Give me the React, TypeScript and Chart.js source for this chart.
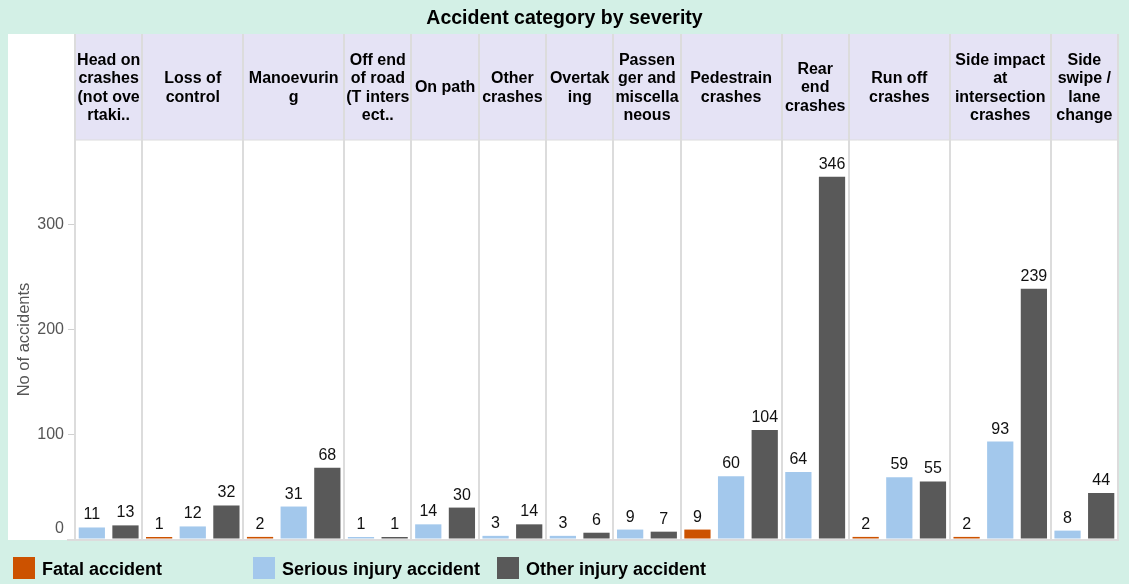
import React, { useEffect, useRef } from 'react';
import { Chart, registerables } from 'chart.js';

Chart.register(...registerables);

const TITLE = 'Accident category by severity';
const Y_TITLE = 'No of accidents';

const CATEGORIES = [
  'Head on crashes (not overtaking)',
  'Loss of control',
  'Manoevuring',
  'Off end of road (T intersection)',
  'On path',
  'Other crashes',
  'Overtaking',
  'Passenger and miscellaneous',
  'Pedestrain crashes',
  'Rear end crashes',
  'Run off crashes',
  'Side impact at intersection crashes',
  'Side swipe / lane change',
];

const HEADER_LINES: string[][] = [
  ['Head on', 'crashes', '(not ove', 'rtaki..'],
  ['Loss of', 'control'],
  ['Manoevurin', 'g'],
  ['Off end', 'of road', '(T inters', 'ect..'],
  ['On path'],
  ['Other', 'crashes'],
  ['Overtak', 'ing'],
  ['Passen', 'ger and', 'miscella', 'neous'],
  ['Pedestrain', 'crashes'],
  ['Rear', 'end', 'crashes'],
  ['Run off', 'crashes'],
  ['Side impact', 'at', 'intersection', 'crashes'],
  ['Side', 'swipe /', 'lane', 'change'],
];

const FATAL: (number | null)[] = [null, 1, 2, null, null, null, null, null, 9, null, 2, 2, null];
const SERIOUS: (number | null)[] = [11, 12, 31, 1, 14, 3, 3, 9, 60, 64, 59, 93, 8];
const OTHER: (number | null)[] = [13, 32, 68, 1, 30, 14, 6, 7, 104, 346, 55, 239, 44];

const SERIES_NAMES = ['Fatal accident', 'Serious injury accident', 'Other injury accident'];
const SERIES_COLORS = ['#cc5200', '#a3c8ec', '#595959'];

const Y_TICKS = [0, 100, 200, 300];
const Y_MAX = 381;

const MINT = '#d3f0e6';
const LAVENDER = '#e5e3f5';
const SEP = '#dcdcdc';
const FONT = '"Liberation Sans", Arial, Helvetica, sans-serif';
const TICK_FONT_SIZE = 16;

export default function App() {
  const ref = useRef<HTMLCanvasElement | null>(null);

  useEffect(() => {
    const canvas = ref.current;
    if (!canvas) return;

    const series = [FATAL, SERIOUS, OTHER];
    // one slot per (category, series present)
    const slots: { cat: number; s: number }[] = [];
    const panelStart: number[] = [];
    CATEGORIES.forEach((_, c) => {
      panelStart.push(slots.length);
      series.forEach((arr, s) => {
        if (arr[c] !== null && arr[c] !== undefined) slots.push({ cat: c, s });
      });
    });
    panelStart.push(slots.length);

    const labels = slots.map((sl, i) => `${CATEGORIES[sl.cat]} #${i}`);
    const datasets = series.map((arr, s) => ({
      label: SERIES_NAMES[s],
      backgroundColor: SERIES_COLORS[s],
      borderWidth: 0,
      data: slots.map((sl) => (sl.s === s ? (arr[sl.cat] as number) : null)),
      grouped: false,
      barPercentage: 0.78,
      categoryPercentage: 1,
      minBarLength: 2,
    }));

    const boundary = (chart: any, idx: number) => {
      const xs = chart.scales.x;
      const n = slots.length;
      return xs.left + (xs.width * idx) / n;
    };

    const plugin = {
      id: 'deco',
      beforeDraw(chart: any) {
        const { ctx, chartArea } = chart;
        ctx.save();
        ctx.fillStyle = MINT;
        ctx.fillRect(0, 0, chart.width, chart.height);
        ctx.fillStyle = '#ffffff';
        ctx.fillRect(8, 34, chartArea.right - 8, chartArea.bottom + 1 - 34);
        ctx.fillStyle = LAVENDER;
        ctx.fillRect(chartArea.left, 34, chartArea.right - chartArea.left, chartArea.top - 34);
        // title
        ctx.fillStyle = '#000';
        ctx.font = `bold 19.5px ${FONT}`;
        ctx.textAlign = 'center';
        ctx.textBaseline = 'alphabetic';
        ctx.fillText(TITLE, chart.width / 2, 24);
        // headers
        ctx.textBaseline = 'middle';
        ctx.font = `bold 16px ${FONT}`;
        const lh = 18.4;
        const midY = (34 + chartArea.top) / 2 + 1;
        HEADER_LINES.forEach((lines, c) => {
          const x0 = boundary(chart, panelStart[c]);
          const x1 = boundary(chart, panelStart[c + 1]);
          const cx = (x0 + x1) / 2;
          const y0 = midY - ((lines.length - 1) * lh) / 2;
          lines.forEach((ln, i) => ctx.fillText(ln, cx, y0 + i * lh));
        });
        ctx.restore();
      },
      beforeDatasetsDraw(chart: any) {
        const { ctx, chartArea } = chart;
        ctx.save();
        ctx.strokeStyle = SEP;
        ctx.lineWidth = 2;
        for (let c = 0; c <= CATEGORIES.length; c++) {
          const x = Math.round(boundary(chart, panelStart[c]));
          ctx.beginPath();
          ctx.moveTo(x, 34);
          ctx.lineTo(x, chartArea.bottom + 1);
          ctx.stroke();
        }
        ctx.beginPath();
        ctx.moveTo(chartArea.left, chartArea.top);
        ctx.lineTo(chartArea.right, chartArea.top);
        ctx.lineWidth = 1;
        ctx.stroke();
        const y0 = chart.scales.y.getPixelForValue(0) + 1;
        ctx.lineWidth = 2;
        ctx.beginPath();
        ctx.moveTo(chartArea.left - 8, y0);
        ctx.lineTo(chartArea.right + 1, y0);
        ctx.stroke();
        // zero tick label sits above the baseline
        ctx.fillStyle = '#555';
        ctx.font = `${TICK_FONT_SIZE}px ${FONT}`;
        ctx.textAlign = 'right';
        ctx.textBaseline = 'middle';
        ctx.fillText(String(Y_TICKS[0]), chartArea.left - 11, y0 - 11);
        ctx.restore();
      },
      afterDatasetsDraw(chart: any) {
        const { ctx } = chart;
        ctx.save();
        ctx.fillStyle = '#111';
        ctx.font = `16px ${FONT}`;
        ctx.textAlign = 'center';
        ctx.textBaseline = 'alphabetic';
        chart.data.datasets.forEach((ds: any, di: number) => {
          const meta = chart.getDatasetMeta(di);
          meta.data.forEach((el: any, i: number) => {
            const v = ds.data[i];
            if (v === null || v === undefined) return;
            ctx.fillText(String(v), el.x, el.y - 8);
          });
        });
        ctx.restore();
      },
      afterDraw(chart: any) {
        const { ctx } = chart;
        const cols = [13, 253, 497];
        ctx.save();
        ctx.font = `bold 18px ${FONT}`;
        ctx.textAlign = 'left';
        ctx.textBaseline = 'alphabetic';
        chart.data.datasets.forEach((ds: any, i: number) => {
          const x = cols[i];
          ctx.fillStyle = ds.backgroundColor;
          ctx.fillRect(x, 557, 22, 22);
          ctx.fillStyle = '#000';
          ctx.fillText(ds.label, x + 29, 575);
        });
        ctx.restore();
      },
    };

    const chart = new Chart(canvas, {
      type: 'bar',
      data: { labels, datasets: datasets as any },
      options: {
        responsive: false,
        animation: false,
        devicePixelRatio: 1,
        layout: { padding: { left: 8, top: 140, right: 11, bottom: 45 } },
        plugins: {
          legend: { display: false },
          tooltip: { enabled: false },
          title: { display: false },
        },
        scales: {
          x: {
            type: 'category',
            display: false,
            offset: true,
          },
          y: {
            min: 0,
            max: Y_MAX,
            afterFit: (scale: any) => {
              scale.width = 67;
            },
            border: { display: false },
            grid: {
              drawOnChartArea: false,
              drawTicks: true,
              tickLength: 7,
              color: '#d0d0d0',
            },
            ticks: {
              stepSize: 100,
              padding: 4,
              color: '#555',
              font: { family: FONT, size: TICK_FONT_SIZE },
              callback: (v: any) =>
                Y_TICKS.includes(Number(v)) && Number(v) !== Y_TICKS[0] ? String(v) : Number(v) === Y_TICKS[0] ? '' : null,
            },
            title: {
              display: true,
              text: Y_TITLE,
              color: '#555',
              font: { family: FONT, size: 16.5 },
              padding: { top: 7, bottom: 0 },
            },
          },
        },
      } as any,
      plugins: [plugin],
    });

    return () => chart.destroy();
  }, []);

  return (
    <div style={{ position: 'fixed', left: 0, top: 0, width: 1129, height: 584 }}>
      <canvas ref={ref} width={1129} height={584} style={{ display: 'block' }} />
    </div>
  );
}
